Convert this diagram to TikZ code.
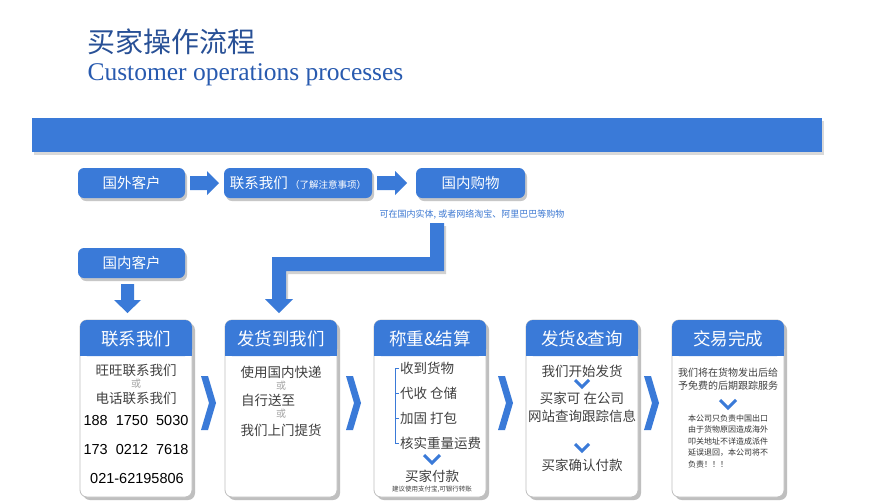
\documentclass[tikz,border=0pt]{standalone}
\usepackage{fontspec}
\setmainfont{Liberation Serif}
\newfontfamily\cjk{Noto Sans CJK SC}
\newfontfamily\cjkb{Noto Sans CJK SC Medium}
\newfontfamily\sns{Liberation Sans}
\begin{document}
\begin{tikzpicture}[x=1pt,y=-1pt,
  bl/.style={fill={rgb,255:red,58;green,122;blue,216}},
  pill/.style={bl,rounded corners=6pt,minimum width=107pt,minimum height=30pt,text=white,font=\cjk\fontsize{14.5}{16}\selectfont,inner sep=0pt},
  card/.style={draw=black!25,fill=white,rounded corners=7pt,line width=0.8pt},
  hd/.style={text=white,font=\cjk\fontsize{17.5}{19}\selectfont},
  tx/.style={text=black!75,font=\cjk\fontsize{13.5}{15}\selectfont,align=center},
  orr/.style={text=black!35,font=\cjk\fontsize{10}{11}\selectfont},
  num/.style={text=black,font=\sns\fontsize{14.5}{16}\selectfont}]
\definecolor{bb}{RGB}{58,122,216}
\useasboundingbox (0,0) rectangle (891,501);
\fill[white] (0,0) rectangle (891,501);
\node[anchor=west,text={rgb,255:red,40;green,80;blue,150},font=\cjk\fontsize{28}{30}\selectfont] (t1) at (84,42) {买家操作流程};
\node[anchor=west,text={rgb,255:red,40;green,90;blue,175},font=\fontsize{25.5}{27}\selectfont] (t2) at (84,75) {Customer operations processes};
\fill[black!15] (34,121) rectangle (824,155);
\fill[bb] (32,118) rectangle (822,152);
% top row
\foreach \x/\y/\w in {78/168/107,224/168/148,416/168/109,78/248/107}
  \fill[black!22,rounded corners=6pt] (\x+2,\y+3) rectangle ++(\w,30);
\node[pill] (a) at (131.5,183) {国外客户};
\node[pill,minimum width=148pt] (b) at (298,183) {联系我们\,{\fontsize{9.5}{10}\selectfont（了解注意事项）}};
\node[pill,minimum width=109pt] (c) at (470.5,183) {国内购物};
\node[text={rgb,255:red,60;green,120;blue,210},font=\cjk\fontsize{9}{10}\selectfont] (s) at (472,215) {可在国内实体, 或者网络淘宝、阿里巴巴等购物};
\node[pill] (d) at (131.5,263) {国内客户};
\fill[bb] (190,176) -- (207,176) -- (207,171) -- (219,183) -- (207,195) -- (207,190) -- (190,190) -- cycle;
\fill[bb] (377,176) -- (395,176) -- (395,171) -- (407,183) -- (395,195) -- (395,190) -- (377,190) -- cycle;
% elbow
\fill[black!18] (432,226) -- (446,226) -- (446,274) -- (288,274) -- (288,302) -- (274,302) -- (274,260) -- (432,260) -- cycle;
\fill[bb] (430,223) -- (444,223) -- (444,271) -- (286,271) -- (286,299) -- (293,299) -- (279,313) -- (265,299) -- (272,299) -- (272,257) -- (430,257) -- cycle;
\fill[bb] (121,284) -- (134,284) -- (134,300) -- (141,300) -- (127.5,313) -- (114,300) -- (121,300) -- cycle;
% cards
\foreach \x/\h in {80/联系我们,225/发货到我们,374/称重\&结算,526/发货\&查询,672/交易完成}{
  \fill[black!25,rounded corners=7pt] (\x+3,323) rectangle (\x+115,500);
  \draw[card] (\x,320) rectangle (\x+112,497);
  \fill[bb,rounded corners=7pt] (\x,320) -- (\x+112,320) -- (\x+112,356) -- (\x,356) -- cycle;
  \fill[bb] (\x,340) rectangle (\x+112,356);
  \node[hd] at (\x+56,339) {\h};
}
\foreach \x in {201,346,498,644}{
  \fill[bb] (\x,376) -- (\x+7,376) -- (\x+15,403) -- (\x+7,430) -- (\x,430) -- (\x+8,403) -- cycle;
}
% card 1
\node[tx] (c1a) at (136,370) {旺旺联系我们};
\node[orr] at (136,384) {或};
\node[tx] (c1b) at (136,398) {电话联系我们};
\node[num] at (136,421) {188\ \ 1750\ \ 5030};
\node[num] at (136,450) {173\ \ 0212\ \ 7618};
\node[num] at (137,478) {021-62195806};
% card 2
\node[tx] at (281,372) {使用国内快递};
\node[orr] at (281,386) {或};
\node[tx] at (268,400) {自行送至};
\node[orr] at (281,414) {或};
\node[tx] at (281,430) {我们上门提货};
% card 3
\draw[bb,line width=1pt] (399,368) -- (395,368) -- (395,443) -- (399,443);
\foreach \y in {393,418} \draw[bb,line width=1pt] (395,\y) -- (399,\y);
\node[tx,anchor=west,inner sep=1pt] at (399,368) {收到货物};
\node[tx,anchor=west,inner sep=1pt] at (399,393) {代收\ 仓储};
\node[tx,anchor=west,inner sep=1pt] at (399,418) {加固\ 打包};
\node[tx,anchor=west,inner sep=1pt] at (399,443) {核实重量运费};
\draw[bb,line width=3pt] (424,455) -- (432,463) -- (440,455);
\node[tx] at (432,476) {买家付款};
\node[tx,font=\cjk\fontsize{6.5}{7}\selectfont] at (432,489) {建议使用支付宝,可银行转账};
% card 4
\node[tx] at (582,371) {我们开始发货};
\draw[bb,line width=3pt] (575,380) -- (582,387) -- (589,380);
\node[tx] at (582,398) {买家可 在公司};
\node[tx] at (582,416) {网站查询跟踪信息};
\draw[bb,line width=3pt] (575,444) -- (582,451) -- (589,444);
\node[tx] at (582,465) {买家确认付款};
% card 5
\node[tx,font=\cjk\fontsize{10}{13}\selectfont] at (728,379) {我们将在货物发出后给\\予免费的后期跟踪服务};
\draw[bb,line width=3pt] (720,400) -- (728,408) -- (736,400);
\node[tx,font=\cjk\fontsize{8}{11.5}\selectfont,align=left,text=black!80] at (728,441) {本公司只负责中国出口\\由于货物原因造成海外\\叩关地址不详造成派件\\延误退回，本公司将不\\负责！！！};
\end{tikzpicture}
\end{document}
